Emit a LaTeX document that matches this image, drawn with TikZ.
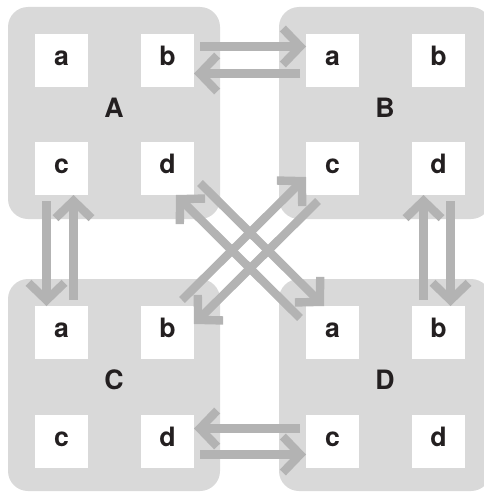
\documentclass[tikz,border=0pt]{standalone}
\usepackage{fontspec}
\setmainfont{TeX Gyre Heros}
\usetikzlibrary{arrows.meta,calc}
\definecolor{blockgray}{HTML}{D9D9D9}
\definecolor{arrowgray}{HTML}{B3B3B3}
\definecolor{ink}{HTML}{231F20}
\begin{document}
\begin{tikzpicture}[x=0.75pt,y=-0.75pt,
  lbl/.style={font=\bfseries\fontsize{20}{22}\selectfont, text=ink, text height=13pt, text depth=5.6pt},
  block/.style={lbl, fill=blockgray, rounded corners=15pt, minimum width=159pt, minimum height=159pt, inner sep=0pt, outer sep=0pt},
  cell/.style={lbl, fill=white, minimum size=39.75pt, inner sep=0pt, outer sep=0pt},
  arr/.style={draw=arrowgray, line width=6.3pt, -{Straight Barb[length=13pt,width=27pt]}}
]
\useasboundingbox (0,0) rectangle (484,492);
\begin{scope}
\clip (0,0) rectangle (484,492);
% blocks (centres)
\node[block] (A) at (114,113) {A};
\node[block] (B) at (385,113) {B};
\node[block] (C) at (114,385) {C};
\node[block] (D) at (385,385) {D};
\end{scope}
% cells
\node[cell] (Aa) at (61.5,60.5) {a};
\node[cell] (Ab) at (167.5,60.5) {b};
\node[cell] (Ac) at (61.5,168.5) {c};
\node[cell] (Ad) at (167.5,168.5) {d};
\node[cell] (Ba) at (332.5,60.5) {a};
\node[cell] (Bb) at (438.5,60.5) {b};
\node[cell] (Bc) at (332.5,168.5) {c};
\node[cell] (Bd) at (438.5,168.5) {d};
\node[cell] (Ca) at (61.5,332.5) {a};
\node[cell] (Cb) at (167.5,332.5) {b};
\node[cell] (Cc) at (61.5,441.5) {c};
\node[cell] (Cd) at (167.5,441.5) {d};
\node[cell] (Da) at (332.5,332.5) {a};
\node[cell] (Db) at (438.5,332.5) {b};
\node[cell] (Dc) at (332.5,441.5) {c};
\node[cell] (Dd) at (438.5,441.5) {d};
% A.b <-> B.a
\draw[arr] ($(Ab.east)+(6,-14)$) -- ($(Ba.west)+(0,-14)$);
\draw[arr] ($(Ba.west)+(-6,13)$) -- ($(Ab.east)+(0,13)$);
% A.c <-> C.a
\draw[arr] ($(Ac.south)+(-15,6)$) -- ($(Ca.north)+(-15,0)$);
\draw[arr] ($(Ca.north)+(12,-6)$) -- ($(Ac.south)+(12,0)$);
% B.d <-> D.b
\draw[arr] ($(Db.north)+(-15,-6)$) -- ($(Bd.south)+(-15,0)$);
\draw[arr] ($(Bd.south)+(12,6)$) -- ($(Db.north)+(12,0)$);
% C.d <-> D.c
\draw[arr] ($(Dc.west)+(-6,-13)$) -- ($(Cd.east)+(0,-13)$);
\draw[arr] ($(Cd.east)+(6,13)$) -- ($(Dc.west)+(0,13)$);
% diagonals A.d <-> D.a
\draw[arr] ($(Ad.south east)+(6,-12)$) -- ($(Da.north west)+(18,0)$);
\draw[arr] ($(Da.north west)+(-6,12)$) -- ($(Ad.south east)+(-18,0)$);
% diagonals C.b <-> B.c
\draw[arr] ($(Cb.north east)+(-12,-6)$) -- ($(Bc.south west)+(0,-18)$);
\draw[arr] ($(Bc.south west)+(12,6)$) -- ($(Cb.north east)+(0,18)$);
\end{tikzpicture}
\end{document}
